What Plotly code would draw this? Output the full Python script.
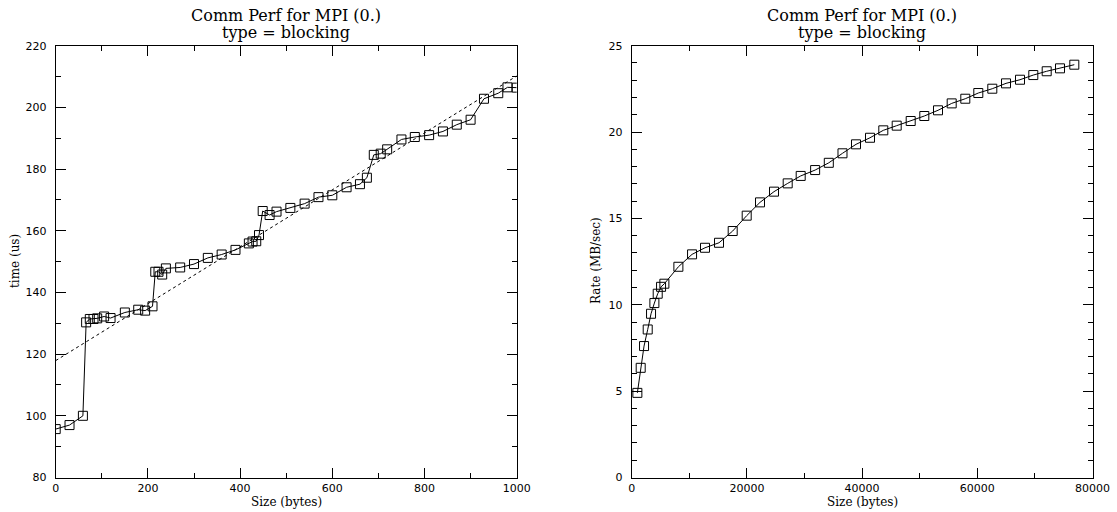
import numpy as np
import plotly.graph_objects as go

# ---------------- data ----------------
size_small = [0, 30, 59, 66, 74, 82, 90, 105, 119, 150, 179, 194, 210, 216, 223, 231, 239,
              270, 300, 330, 360, 390, 419, 427, 435, 441, 449, 464, 479, 509, 540, 570,
              600, 631, 660, 675, 690, 705, 719, 750, 779, 810, 840, 870, 900, 929, 960,
              980, 1000]
time_us = [95.7, 97.0, 100.0, 130.3, 131.4, 131.4, 131.6, 132.2, 131.7, 133.5, 134.4, 134.1,
           135.5, 146.7, 146.7, 145.8, 147.8, 148.1, 149.2, 151.2, 152.3, 153.8, 155.9, 156.5,
           156.6, 158.6, 166.4, 165.1, 166.2, 167.4, 168.8, 170.9, 171.5, 174.1, 175.1, 177.2,
           184.6, 185.0, 186.4, 189.6, 190.4, 191.0, 192.2, 194.4, 196.0, 202.8, 204.6, 206.5,
           206.4]

size_large = [984, 1563, 2142, 2779, 3358, 3937, 4516, 5095, 5674, 8106, 10480, 12726, 15156,
              17535, 19965, 22274, 24705, 27083, 29340, 31847, 34221, 36595, 38941, 41372,
              43680, 46007, 48437, 50799, 53177, 55556, 57917, 60174, 62604, 64983, 67413,
              69722, 72049, 74358, 76840]
rate_mbs = [4.90, 6.35, 7.61, 8.57, 9.48, 10.10, 10.64, 11.04, 11.22, 12.20, 12.92, 13.30,
            13.59, 14.27, 15.16, 15.93, 16.55, 17.03, 17.46, 17.80, 18.22, 18.77, 19.29, 19.67,
            20.10, 20.37, 20.64, 20.93, 21.26, 21.66, 21.93, 22.26, 22.51, 22.82, 23.03, 23.30,
            23.52, 23.69, 23.90]

title_line1 = "Comm Perf for MPI (0.)"
title_line2 = "type = blocking"

# least-squares fit of time vs size (dotted line)
slope, intercept = np.polyfit(size_small, time_us, 1)
fit_x = [0, 1000]
fit_y = [intercept + slope * v for v in fit_x]

# ---------------- figure ----------------
W, H = 1117, 512
L_dom = [55.7 / W, 516.7 / W]
R_dom = [631.7 / W, 1092.5 / W]
Y_dom = [1 - 477.5 / H, 1 - 45.7 / H]

serif = "DejaVu Serif"
sans = "DejaVu Sans"

fig = go.Figure()

marker = dict(symbol="square-open", size=9, color="black", line=dict(width=1, color="black"))

fig.add_trace(go.Scatter(x=fit_x, y=fit_y, mode="lines",
                         line=dict(color="black", width=1, dash="dot"),
                         xaxis="x", yaxis="y", showlegend=False))
fig.add_trace(go.Scatter(x=size_small, y=time_us, mode="lines+markers",
                         line=dict(color="black", width=1), marker=marker,
                         xaxis="x", yaxis="y", showlegend=False))
fig.add_trace(go.Scatter(x=size_large, y=rate_mbs, mode="lines+markers",
                         line=dict(color="black", width=1), marker=marker,
                         xaxis="x2", yaxis="y2", showlegend=False))

def axis(domain, rng, dtick, minor_dtick, anchor, **kw):
    return dict(domain=domain, range=rng, dtick=dtick, tick0=0,
                showgrid=False, zeroline=False, showline=True, linecolor="black",
                linewidth=1, mirror="allticks", ticks="inside", ticklen=10,
                tickcolor="black", tickwidth=1,
                minor=dict(dtick=minor_dtick, ticks="inside", ticklen=5,
                           tickcolor="black", tickwidth=1, showgrid=False),
                tickfont=dict(family=sans, size=11, color="black"),
                tickformat="d",
                anchor=anchor, automargin=False, fixedrange=True, **kw)

fig.update_layout(
    width=W, height=H,
    margin=dict(l=0, r=0, t=0, b=0),
    paper_bgcolor="white", plot_bgcolor="white",
    xaxis=axis(L_dom, [0, 1000], 200, 100, "y"),
    yaxis=axis(Y_dom, [80, 220], 20, 10, "x", ticklabelstandoff=6),
    xaxis2=axis(R_dom, [0, 80000], 20000, 10000, "y2"),
    yaxis2=axis(Y_dom, [0, 25], 5, 1, "x2", ticklabelstandoff=6),
)

ann = []
for dom in (L_dom, R_dom):
    cx = (dom[0] + dom[1]) / 2
    ann.append(dict(x=cx, y=1 - 15 / H, xref="paper", yref="paper", text=title_line1,
                    showarrow=False, xanchor="center", yanchor="middle",
                    font=dict(family=serif, size=16, color="black")))
    ann.append(dict(x=cx, y=1 - 32.5 / H, xref="paper", yref="paper", text=title_line2,
                    showarrow=False, xanchor="center", yanchor="middle",
                    font=dict(family=serif, size=16, color="black")))
    ann.append(dict(x=cx, y=1 - 502 / H, xref="paper", yref="paper", text="Size (bytes)",
                    showarrow=False, xanchor="center", yanchor="middle",
                    font=dict(family=serif, size=12, color="black")))
ann.append(dict(x=15 / W, y=1 - 261 / H, xref="paper", yref="paper", text="time (us)",
                showarrow=False, textangle=-90, xanchor="center", yanchor="middle",
                font=dict(family=serif, size=12, color="black")))
ann.append(dict(x=596 / W, y=1 - 261 / H, xref="paper", yref="paper", text="Rate (MB/sec)",
                showarrow=False, textangle=-90, xanchor="center", yanchor="middle",
                font=dict(family=serif, size=12, color="black")))
fig.update_layout(annotations=ann)

fig.write_html("out.html", config={"displayModeBar": False},
               post_script="document.body.style.margin='0';document.body.style.overflow='hidden';")
